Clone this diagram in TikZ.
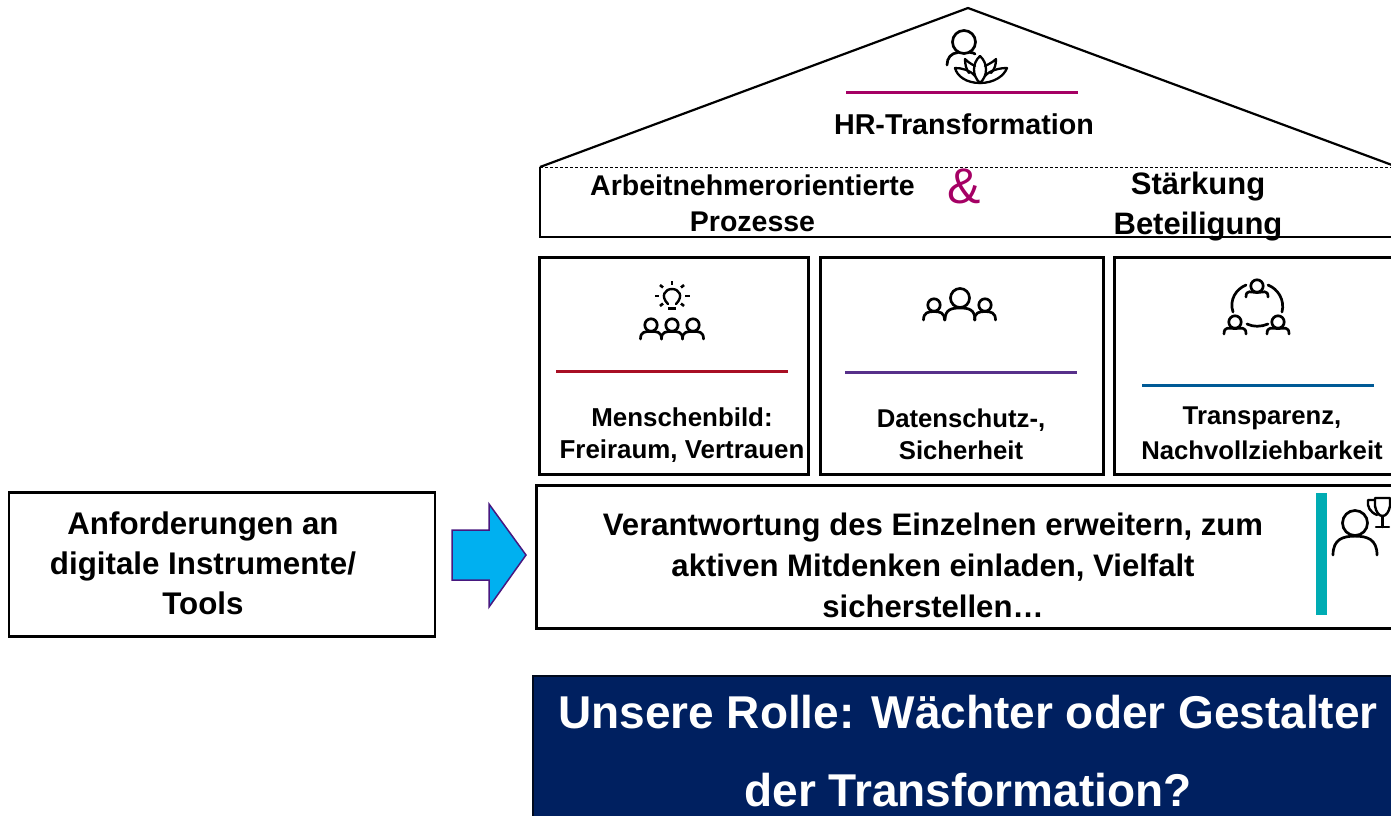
\documentclass[tikz,border=0pt]{standalone}
\usepackage{fontspec}
\setmainfont{Liberation Sans}
\definecolor{magentaline}{HTML}{A50064}
\definecolor{redline}{HTML}{A80F24}
\definecolor{purpleline}{HTML}{57308A}
\definecolor{blueline}{HTML}{005A96}
\definecolor{tealbar}{HTML}{00ACB3}
\definecolor{navybox}{HTML}{002060}
\definecolor{arrowfill}{HTML}{00B0F0}
\definecolor{arrowline}{HTML}{48187F}
\tikzset{
  box/.style={draw=black,line width=2.2pt,fill=white,outer sep=0pt,inner sep=0pt},
  lbl/.style 2 args={inner sep=0pt,align=center,font=\bfseries\fontsize{#1}{#2}\selectfont},
  icon/.style={line width=2.7pt,line cap=round,line join=round,black},
  rule/.style={line width=3pt},
}
\newcommand{\personicon}[5]{%
  \draw[icon] (#1,#2) circle[radius=#3];
  \draw[icon] (#1-#4,#2+#5) .. controls (#1-#4,#2+#5-#4*0.72) and (#1-#4*0.55,#2+#3*1.05) .. (#1,#2+#3*1.05)
     .. controls (#1+#4*0.55,#2+#3*1.05) and (#1+#4,#2+#5-#4*0.72) .. (#1+#4,#2+#5);
}
\begin{document}
\begin{tikzpicture}[x=1pt,y=-1pt]
\useasboundingbox (0,0) rectangle (1391,815);
% roof
\coordinate (roofL) at (540,167);
\coordinate (roofT) at (968,8);
\coordinate (roofR) at (1392,165);
\draw[line width=2.2pt,line join=miter] (roofL) -- (roofT) -- (roofR);
\draw[line width=0.9pt,dash pattern=on 3pt off 2pt] (roofL) -- (1392,167);
\draw[line width=2.2pt] (roofL) -- (540,237) -- (1395,237);
% icon: person with lotus
\draw[icon] (964,42) circle[radius=11.5];
\draw[icon] (947,65) .. controls (947,58) and (951,53) .. (958,52.5) (970,52.5) .. controls (972,52.5) and (974,53) .. (975,54);
\begin{scope}[icon,line width=2.3pt]
\draw (980,56) .. controls (972,63) and (972,76) .. (980,83) .. controls (988,76) and (988,63) .. (980,56);
\draw (975,66) .. controls (971,64) and (968,62) .. (965,59) .. controls (965,64) and (966,69) .. (969,73);
\draw (985,66) .. controls (989,64) and (993,62) .. (996,59) .. controls (996,64) and (995,69) .. (991,73);
\draw (980,83) .. controls (966,83) and (957,76) .. (955,68) .. controls (962,68) and (970,70) .. (975,76);
\draw (980,83) .. controls (994,83) and (1004,76) .. (1007,68) .. controls (1000,68) and (990,70) .. (985,76);
\end{scope}
\draw[rule,draw=magentaline] (846,92) -- (1078,92);
\node[lbl={28.7}{36}] (hr) at (964,124) {HR-Transformation};
\node[lbl={28.5}{36}] (arb) at (752.5,203) {Arbeitnehmerorientierte\\Prozesse};
\node[font=\fontsize{50}{50}\selectfont,text=magentaline,inner sep=0pt] (amp) at (964,186) {\&};
\node[lbl={31}{40}] (st) at (1198,207) {Stärkung\\Beteiligung};
% pillars
\node[box,minimum width=269pt,minimum height=217pt,anchor=north west] (p1) at (539.5,257.5) {};
\node[box,minimum width=283pt,minimum height=217pt,anchor=north west] (p2) at (820.5,257.5) {};
\node[box,minimum width=290pt,minimum height=217pt,anchor=north west] (p3) at (1114.5,257.5) {};
\draw[rule,draw=redline] (556,371) -- (788,371);
\draw[rule,draw=purpleline] (845,372) -- (1077,372);
\draw[rule,draw=blueline] (1142,385) -- (1374,385);
\node[lbl={25.9}{32}] (t1) at (682,435) {Menschenbild:\\Freiraum, Vertrauen};
\node[lbl={25.7}{32}] (t2) at (961,434) {Datenschutz-,\\Sicherheit};
\node[lbl={25.7}{35}] (t3) at (1262,433) {Transparenz,\\Nachvollziehbarkeit};
% bulb icon
\begin{scope}[icon,line width=2.4pt]
\draw (668,304) .. controls (660,296) and (665,289) .. (672,289) .. controls (679,289) and (684,296) .. (676,304);
\draw[line width=2.6pt,line cap=butt] (668,308.5) -- (676,308.5);
\draw[line width=2.6pt,line cap=butt] (672,281) -- (672,285);
\draw[line width=2.6pt,line cap=butt] (655,296) -- (659,296) (685,296) -- (690,296);
\draw[line width=2.6pt,line cap=butt] (660,285) -- (663,287.5) (684,285) -- (681,287.5);
\draw[line width=2.6pt,line cap=butt] (660,306) -- (663,303.5) (684,306) -- (681,303.5);
\end{scope}
\personicon{651}{325}{6.2}{10.5}{14}
\personicon{672}{325}{6.2}{10.5}{14}
\personicon{693}{325}{6.2}{10.5}{14}
% team icon
\personicon{960}{298}{9.5}{15}{22}
\personicon{934}{305}{6.2}{10.5}{15}
\personicon{985}{305}{6.2}{10.5}{15}
% circle of people icon
\personicon{1257}{286}{6.2}{11}{11}
\personicon{1235}{322}{6.2}{11}{12}
\personicon{1278}{322}{6.2}{11}{12}
\draw[icon] (1246,285) .. controls (1236,289) and (1229,300) .. (1233,312);
\draw[icon] (1268,285) .. controls (1278,289) and (1285,300) .. (1282,312);
\draw[icon] (1247,324) .. controls (1253,327) and (1261,327) .. (1268,324);
% wide box
\node[box,minimum width=859pt,minimum height=143pt,anchor=north west] (wide) at (536.5,485.5) {};
\node[lbl={31.1}{41}] (widet) at (933,565.5) {Verantwortung des Einzelnen erweitern, zum\\aktiven Mitdenken einladen, Vielfalt\\sicherstellen…};
\fill[tealbar] (1316,493) rectangle (1327,615);
\personicon{1355}{523}{12.5}{22}{32}
\begin{scope}[icon,line width=2.4pt]
\draw (1375,498) -- (1390,498) -- (1390,506) .. controls (1389,512) and (1386,516) .. (1382.5,516) .. controls (1379,516) and (1376,512) .. (1375,506) -- cycle;
\draw (1375,500) -- (1368,500) .. controls (1367,507) and (1370,512) .. (1377,515);
\draw (1382.5,516) -- (1382.5,527) (1376,527) -- (1389,527);
\end{scope}
% left box and arrow
\node[box,minimum width=426pt,minimum height=144pt,anchor=north west] (left) at (9,492.5) {};
\node[lbl={31.3}{40}] (leftt) at (203,563.5) {Anforderungen an\\digitale Instrumente/\\Tools};
\draw[draw=arrowline,fill=arrowfill,line width=1.5pt,line join=miter]
  (452,530) -- (489,530) -- (489,504) -- (526,555) -- (489,607) -- (489,580) -- (452,580) -- cycle;
% role box
\fill[navybox] (532.5,675.5) rectangle (1395,820);
\draw[line width=2pt,draw=black!70!navybox] (532.5,820) -- (532.5,675.5) -- (1395,675.5);
\node[lbl={46}{78},text=white] (role) at (968,751.5) {Unsere Rolle: Wächter oder Gestalter\\der Transformation?};
\end{tikzpicture}
\end{document}
